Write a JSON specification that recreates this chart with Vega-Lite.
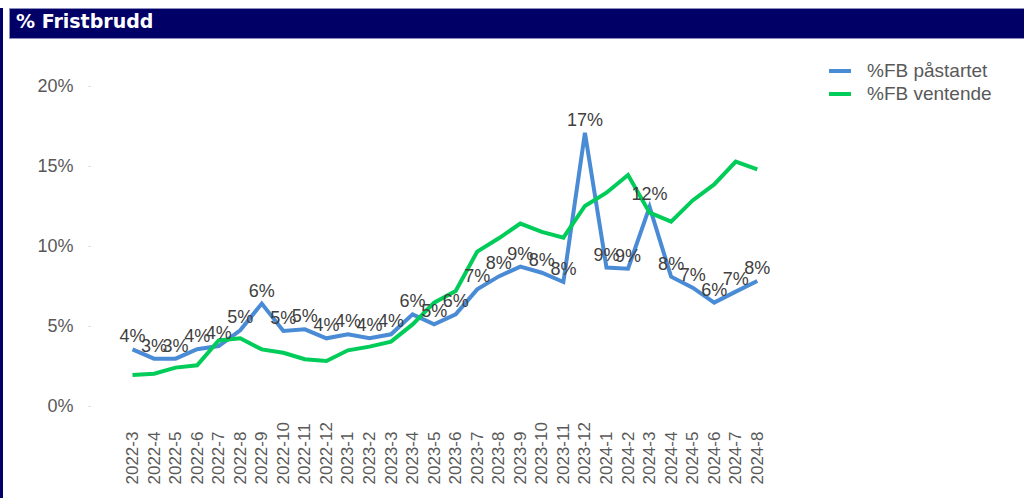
{
  "$schema": "https://vega.github.io/schema/vega-lite/v6.json",
  "padding": {"left": 0, "top": 7, "right": 0, "bottom": 0},
  "background": "white",
  "bounds": "flush",
  "spacing": 6,
  "config": {
    "font": "Liberation Sans",
    "view": {"stroke": null}
  },
  "datasets": {
    "fb": [
      {"month": "2022-3", "series": "%FB påstartet", "value": 0.0354},
      {"month": "2022-4", "series": "%FB påstartet", "value": 0.0296},
      {"month": "2022-5", "series": "%FB påstartet", "value": 0.0296},
      {"month": "2022-6", "series": "%FB påstartet", "value": 0.0355},
      {"month": "2022-7", "series": "%FB påstartet", "value": 0.0375},
      {"month": "2022-8", "series": "%FB påstartet", "value": 0.0473},
      {"month": "2022-9", "series": "%FB påstartet", "value": 0.064},
      {"month": "2022-10", "series": "%FB påstartet", "value": 0.0469},
      {"month": "2022-11", "series": "%FB påstartet", "value": 0.0479},
      {"month": "2022-12", "series": "%FB påstartet", "value": 0.0423},
      {"month": "2023-1", "series": "%FB påstartet", "value": 0.0448},
      {"month": "2023-2", "series": "%FB påstartet", "value": 0.0423},
      {"month": "2023-3", "series": "%FB påstartet", "value": 0.0448},
      {"month": "2023-4", "series": "%FB påstartet", "value": 0.0573},
      {"month": "2023-5", "series": "%FB påstartet", "value": 0.051},
      {"month": "2023-6", "series": "%FB påstartet", "value": 0.0573},
      {"month": "2023-7", "series": "%FB påstartet", "value": 0.0729},
      {"month": "2023-8", "series": "%FB påstartet", "value": 0.081},
      {"month": "2023-9", "series": "%FB påstartet", "value": 0.0871},
      {"month": "2023-10", "series": "%FB påstartet", "value": 0.0833},
      {"month": "2023-11", "series": "%FB påstartet", "value": 0.0775},
      {"month": "2023-12", "series": "%FB påstartet", "value": 0.1708},
      {"month": "2024-1", "series": "%FB påstartet", "value": 0.0865},
      {"month": "2024-2", "series": "%FB påstartet", "value": 0.0858},
      {"month": "2024-3", "series": "%FB påstartet", "value": 0.1244},
      {"month": "2024-4", "series": "%FB påstartet", "value": 0.0808},
      {"month": "2024-5", "series": "%FB påstartet", "value": 0.074},
      {"month": "2024-6", "series": "%FB påstartet", "value": 0.0646},
      {"month": "2024-7", "series": "%FB påstartet", "value": 0.0715},
      {"month": "2024-8", "series": "%FB påstartet", "value": 0.0781},
      {"month": "2022-3", "series": "%FB ventende", "value": 0.0194},
      {"month": "2022-4", "series": "%FB ventende", "value": 0.0202},
      {"month": "2022-5", "series": "%FB ventende", "value": 0.024},
      {"month": "2022-6", "series": "%FB ventende", "value": 0.0254},
      {"month": "2022-7", "series": "%FB ventende", "value": 0.041},
      {"month": "2022-8", "series": "%FB ventende", "value": 0.0423},
      {"month": "2022-9", "series": "%FB ventende", "value": 0.0354},
      {"month": "2022-10", "series": "%FB ventende", "value": 0.0333},
      {"month": "2022-11", "series": "%FB ventende", "value": 0.0292},
      {"month": "2022-12", "series": "%FB ventende", "value": 0.0281},
      {"month": "2023-1", "series": "%FB ventende", "value": 0.0348},
      {"month": "2023-2", "series": "%FB ventende", "value": 0.0371},
      {"month": "2023-3", "series": "%FB ventende", "value": 0.0402},
      {"month": "2023-4", "series": "%FB ventende", "value": 0.051},
      {"month": "2023-5", "series": "%FB ventende", "value": 0.0646},
      {"month": "2023-6", "series": "%FB ventende", "value": 0.0719},
      {"month": "2023-7", "series": "%FB ventende", "value": 0.0965},
      {"month": "2023-8", "series": "%FB ventende", "value": 0.1048},
      {"month": "2023-9", "series": "%FB ventende", "value": 0.114},
      {"month": "2023-10", "series": "%FB ventende", "value": 0.1088},
      {"month": "2023-11", "series": "%FB ventende", "value": 0.1052},
      {"month": "2023-12", "series": "%FB ventende", "value": 0.125},
      {"month": "2024-1", "series": "%FB ventende", "value": 0.1333},
      {"month": "2024-2", "series": "%FB ventende", "value": 0.1444},
      {"month": "2024-3", "series": "%FB ventende", "value": 0.1208},
      {"month": "2024-4", "series": "%FB ventende", "value": 0.1152},
      {"month": "2024-5", "series": "%FB ventende", "value": 0.1285},
      {"month": "2024-6", "series": "%FB ventende", "value": 0.1385},
      {"month": "2024-7", "series": "%FB ventende", "value": 0.1527},
      {"month": "2024-8", "series": "%FB ventende", "value": 0.1479}
    ],
    "one": [{"label": "% Fristbrudd"}]
  },
  "hconcat": [
    {
      "width": 3,
      "height": 491,
      "view": {"fill": "#000066", "stroke": null},
      "data": {"name": "one"},
      "mark": {"type": "rect", "color": "#000066"},
      "encoding": {}
    },
    {
      "bounds": "flush",
      "spacing": 48,
      "vconcat": [
        {
          "width": 1015,
          "height": 30,
          "view": {"fill": "#000066", "stroke": "#8c8cc0", "strokeWidth": 1},
          "data": {"name": "one"},
          "mark": {
            "type": "text",
            "align": "left",
            "baseline": "alphabetic",
            "dx": 7,
            "dy": 5,
            "color": "white",
            "font": "DejaVu Sans",
            "fontSize": 19,
            "fontWeight": "bold"
          },
          "encoding": {
            "text": {"field": "label", "type": "nominal"},
            "x": {"datum": 0, "type": "quantitative", "scale": {"domain": [0, 1]}, "axis": null}
          }
        },
        {
          "width": 1015,
          "height": 320,
          "data": {"name": "fb"},
          "encoding": {
            "x": {
              "field": "month",
              "type": "ordinal",
              "sort": null,
              "scale": {"type": "point", "padding": 0, "range": [123.5, 748.3]},
              "axis": {
                "title": null,
                "labelAngle": 270,
                "labelAlign": "left",
                "labelBaseline": "middle",
                "labelPadding": 78,
                "ticks": false,
                "domain": false,
                "labelOverlap": false,
                "labelFontSize": 17,
                "labelColor": "#595959"
              }
            },
            "y": {
              "field": "value",
              "type": "quantitative",
              "scale": {"domain": [0, 0.2]},
              "axis": {
                "title": null,
                "values": [0, 0.05, 0.1, 0.15, 0.2],
                "format": ".0%",
                "offset": -81,
                "domain": false,
                "grid": false,
                "tickSize": 2,
                "tickColor": "#d0d0d0",
                "labelPadding": 15,
                "labelFontSize": 18,
                "labelColor": "#595959"
              }
            }
          },
          "layer": [
            {
              "mark": {"type": "line", "strokeWidth": 4},
              "encoding": {
                "color": {
                  "field": "series",
                  "type": "nominal",
                  "scale": {"domain": ["%FB påstartet", "%FB ventende"], "range": ["#4a8bd6", "#00cc5a"]},
                  "legend": {
                    "title": null,
                    "orient": "none",
                    "legendX": 827,
                    "legendY": 50,
                    "symbolType": "stroke",
                    "symbolStrokeWidth": 4,
                    "symbolSize": 484,
                    "labelFontSize": 19,
                    "labelColor": "#595959",
                    "labelOffset": 14,
                    "rowPadding": 0
                  }
                }
              }
            },
            {
              "transform": [{"filter": "datum.series === '%FB påstartet'"}],
              "mark": {"type": "text", "baseline": "alphabetic", "dy": -7, "fontSize": 18, "color": "#404040"},
              "encoding": {
                "text": {"field": "value", "type": "quantitative", "format": ".0%"}
              }
            }
          ]
        }
      ]
    }
  ]
}
